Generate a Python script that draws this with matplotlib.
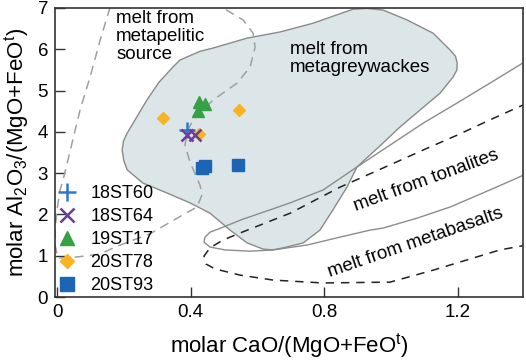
import numpy as np
import matplotlib.pyplot as plt

plt.rcParams['font.family'] = ['Liberation Sans', 'DejaVu Sans']
plt.rcParams['mathtext.fontset'] = 'custom'
plt.rcParams['mathtext.rm'] = 'Liberation Sans'
plt.rcParams['mathtext.it'] = 'Liberation Sans:italic'

# sample data, molar CaO/(MgO+FeOt) vs molar Al2O3/(MgO+FeOt)
x_18st60 = [0.39]
y_18st60 = [4.05]
x_18st64 = [0.388, 0.413]
y_18st64 = [3.92, 3.92]
x_19st17 = [0.426, 0.443, 0.423]
y_19st17 = [4.73, 4.67, 4.51]
x_20st78 = [0.316, 0.546, 0.426]
y_20st78 = [4.33, 4.53, 3.96]
x_20st93 = [0.433, 0.443, 0.543]
y_20st93 = [3.12, 3.17, 3.20]

grey_x = [0.210, 0.257, 0.329, 0.398, 0.458, 0.518, 0.569, 0.617, 0.645, 0.677,
          0.737, 0.787, 0.826, 0.868, 0.898, 0.937, 0.976, 1.027, 1.087, 1.147,
          1.186, 1.197, 1.198, 1.193, 1.177, 1.126, 1.048, 0.976, 0.928, 0.886,
          0.847, 0.766, 0.668, 0.569, 0.467, 0.428, 0.368, 0.347, 0.305, 0.269,
          0.210, 0.199, 0.195, 0.200]
grey_y = [3.08, 2.76, 2.52, 2.28, 2.03, 1.62, 1.31, 1.16, 1.14, 1.19,
          1.31, 1.62, 2.11, 2.66, 3.15, 3.44, 3.73, 4.12, 4.53, 4.94,
          5.33, 5.50, 5.67, 5.83, 5.98, 6.39, 6.71, 6.95, 6.99, 6.97,
          6.86, 6.63, 6.42, 6.27, 6.03, 5.95, 5.74, 5.57, 5.20, 4.77,
          3.97, 3.78, 3.56, 3.30]

pel_x = [0.159, 0.129, 0.099, 0.069, 0.045, 0.018, 0.009, 0.0, -0.006, -0.006,
         0.003, 0.060, 0.129, 0.180, 0.278, 0.377, 0.419, 0.434, 0.428, 0.419,
         0.398, 0.383, 0.392, 0.407, 0.467, 0.539, 0.578, 0.593, 0.587, 0.557,
         0.497, 0.473]
pel_y = [7.02, 6.22, 5.33, 4.53, 3.73, 2.83, 2.59, 2.11, 1.62, 1.26,
         0.94, 0.97, 1.04, 1.23, 1.53, 1.99, 2.18, 2.47, 2.71, 2.88,
         3.27, 3.68, 4.04, 4.29, 4.77, 5.18, 5.57, 6.05, 6.39, 6.71,
         7.0, 7.09]

ton_x = [1.416, 1.395, 1.296, 1.198, 1.096, 0.997, 0.898, 0.796, 0.698, 0.548,
         0.497, 0.458, 0.443, 0.440, 0.458, 0.503, 0.578, 0.647, 0.749, 0.847,
         0.937, 0.976, 1.078, 1.177, 1.275, 1.377, 1.416]
ton_y = [5.74, 5.67, 5.18, 4.70, 4.21, 3.68, 3.15, 2.59, 2.28, 1.86,
         1.69, 1.57, 1.45, 1.33, 1.21, 1.14, 1.11, 1.14, 1.26, 1.45,
         1.62, 1.67, 1.91, 2.18, 2.52, 2.88, 3.03]

bas_x = [1.42, 1.395, 1.296, 1.198, 1.096, 0.997, 0.847, 0.698, 0.548, 0.497,
         0.458, 0.440, 0.446, 0.473, 0.548, 0.647, 0.796, 0.997, 1.126, 1.228,
         1.326, 1.42]
bas_y = [4.70, 4.65, 4.29, 3.92, 3.56, 3.20, 2.66, 2.03, 1.55, 1.38,
         1.19, 0.99, 0.80, 0.68, 0.53, 0.41, 0.34, 0.36, 0.65, 0.90,
         1.14, 1.28]

fig = plt.figure(figsize=(5.26, 3.6), dpi=100)
ax = fig.add_axes([0.1046, 0.175, 0.8897, 0.8028])

ax.fill(grey_x, grey_y, facecolor='#dce5e8', edgecolor='#8a8a8a', lw=1.0, zorder=1)
ax.plot(pel_x, pel_y, color='#a0a0a0', lw=1.1, ls=(0, (6, 4)), zorder=2)
ax.plot(ton_x, ton_y, color='#8c8c8c', lw=1.0, zorder=2)
ax.plot(bas_x, bas_y, color='#222222', lw=1.1, ls=(0, (5.5, 4.5)), zorder=2)

ax.plot(x_18st60, y_18st60, ls='none', marker='+', ms=11, mew=1.8, color='#2f7ac8', label='18ST60', zorder=4)
ax.plot(x_18st64, y_18st64, ls='none', marker='x', ms=9, mew=1.8, color='#6a3d9a', label='18ST64', zorder=4)
ax.plot(x_19st17, y_19st17, ls='none', marker='^', ms=8.5, color='#36a044', label='19ST17', zorder=3)
ax.plot(x_20st78, y_20st78, ls='none', marker='D', ms=6.5, color='#f7b41e', label='20ST78', zorder=3)
ax.plot(x_20st93, y_20st93, ls='none', marker='s', ms=8.5, color='#1c64b4', label='20ST93', zorder=3)

ax.text(0.177, 6.95, 'melt from\nmetapelitic\nsource', fontsize=13.5, va='top', ha='left', linespacing=1.08)
ax.text(0.698, 6.2, 'melt from\nmetagreywackes', fontsize=13.5, va='top', ha='left', linespacing=1.05)
ax.text(1.105, 2.83, 'melt from tonalites', fontsize=13.5, rotation=20, ha='center', va='center', rotation_mode='anchor')
ax.text(1.072, 1.31, 'melt from metabasalts', fontsize=13.5, rotation=19, ha='center', va='center', rotation_mode='anchor')

ax.set_xlim(-0.006, 1.395)
ax.set_ylim(0, 7)
ax.set_xticks([0, 0.4, 0.8, 1.2])
ax.set_xticklabels(['0', '0.4', '0.8', '1.2'])
ax.set_yticks(range(8))
ax.tick_params(direction='in', length=7, width=1.0, color='#333333', labelsize=13.5, pad=5)
for s in ax.spines.values():
    s.set_color('#333333')
    s.set_linewidth(1.2)

ax.set_xlabel('molar CaO/(MgO+FeO$^\\mathrm{t}$)', fontsize=16, labelpad=7)
ax.set_ylabel('molar Al$_2$O$_3$/(MgO+FeO$^\\mathrm{t}$)', fontsize=16, labelpad=5)

ax.legend(loc='lower left', bbox_to_anchor=(0.0, 0.0), frameon=False, fontsize=13,
          handlelength=1.0, handletextpad=0.8, labelspacing=0.33, borderpad=0.15,
          borderaxespad=0, numpoints=1, markerscale=1.15)

fig.savefig('out.png', dpi=100)
